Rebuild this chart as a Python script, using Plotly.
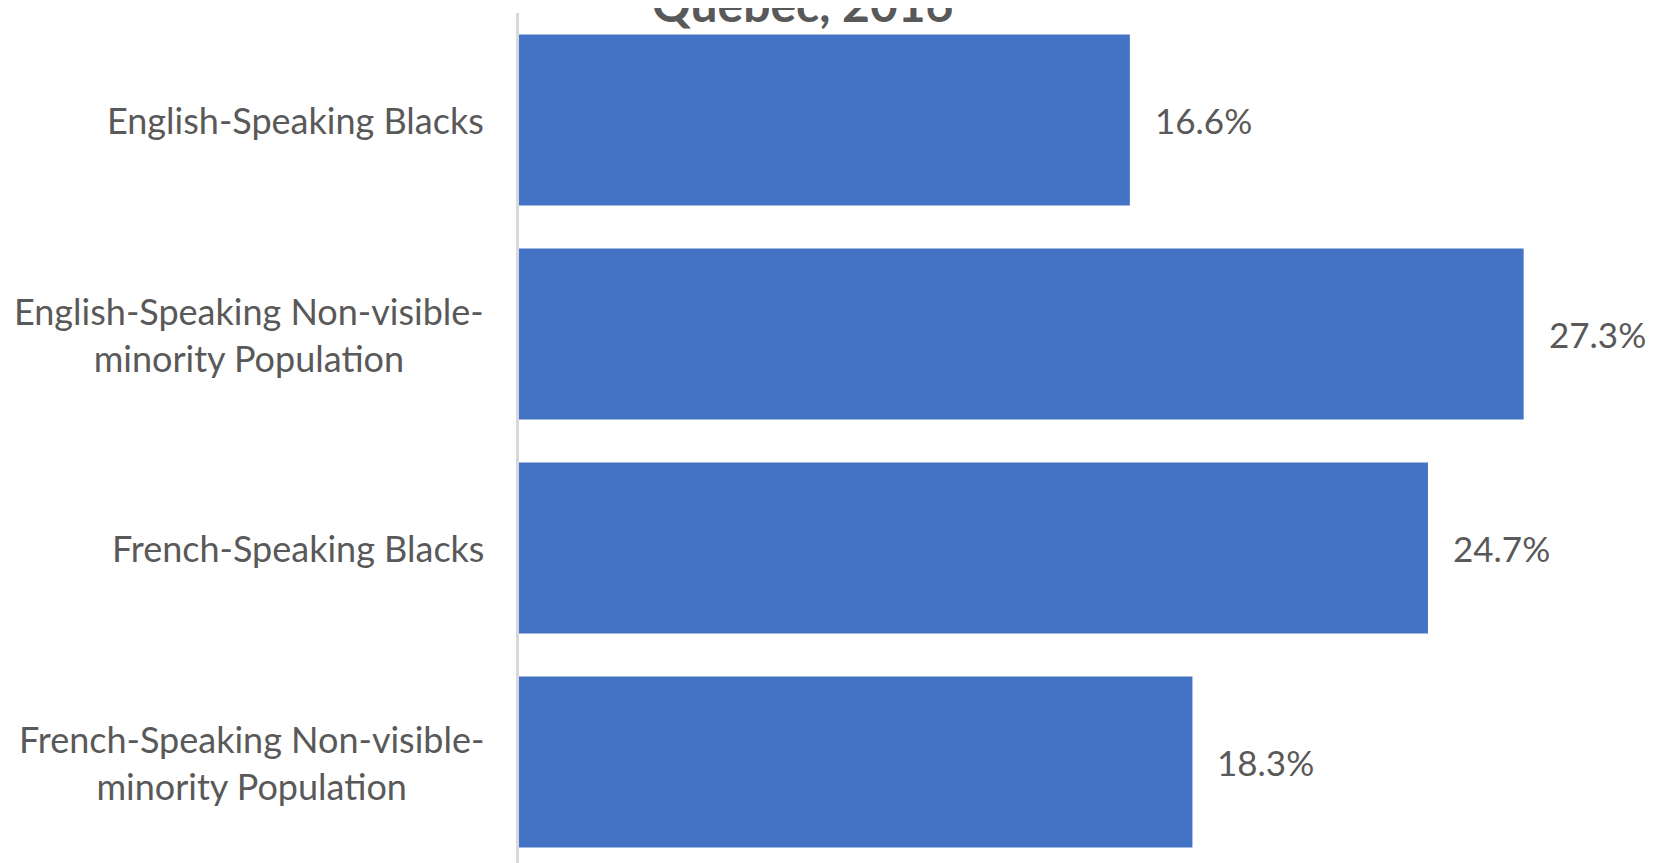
import plotly.graph_objects as go

categories = [
    "English-Speaking Blacks",
    "English-Speaking Non-visible-<br>minority Population",
    "French-Speaking Blacks",
    "French-Speaking Non-visible-<br>minority Population",
]
values = [16.6, 27.3, 24.7, 18.3]
value_labels = ["16.6%", "27.3%", "24.7%", "18.3%"]
title_text = "Quebec, 2016"

W, H = 1655, 863
LEFT = 511          # page body has an 8px margin
TOP = 5
PX_PER_UNIT = 36.8
PITCH = 214.0
GREY = "#595959"
FONT = "Lato"

plot_w = W - LEFT
fig = go.Figure()
fig.add_trace(go.Bar(
    x=values,
    y=list(range(len(categories))),
    orientation="h",
    marker=dict(color="#4472C4", line=dict(width=0)),
    hoverinfo="skip",
    width=0.8,
))

for i, (v, t) in enumerate(zip(values, value_labels)):
    fig.add_annotation(x=v, y=i, xref="x", yref="y", text=t, showarrow=False,
                       xanchor="left", yanchor="middle", xshift=23,
                       font=dict(family=FONT, size=35, color=GREY))

for i, c in enumerate(categories):
    fig.add_annotation(x=0, y=i, xref="paper", yref="y", text=c, showarrow=False,
                       xanchor="right", yanchor="middle", align="center", xshift=-33,
                       font=dict(family=FONT, size=36, color=GREY))

fig.add_annotation(x=(794.5 - LEFT) / plot_w, y=1, xref="paper", yref="paper",
                   text="<b>" + title_text + "</b>", showarrow=False,
                   xanchor="center", yanchor="bottom", yshift=-21,
                   font=dict(family=FONT, size=48, color=GREY))

fig.update_layout(
    width=W, height=H,
    margin=dict(l=LEFT, r=0, t=TOP, b=0, pad=0),
    paper_bgcolor="white", plot_bgcolor="white",
    showlegend=False,
    xaxis=dict(range=[0, plot_w / PX_PER_UNIT], visible=False, fixedrange=True),
    yaxis=dict(range=[-0.5 + (H - TOP) / PITCH, -0.5], showticklabels=False, showgrid=False,
               zeroline=False, showline=True, linecolor="#D9D9D9", linewidth=3, ticks="",
               fixedrange=True),
)

fig.write_html("out.html")
